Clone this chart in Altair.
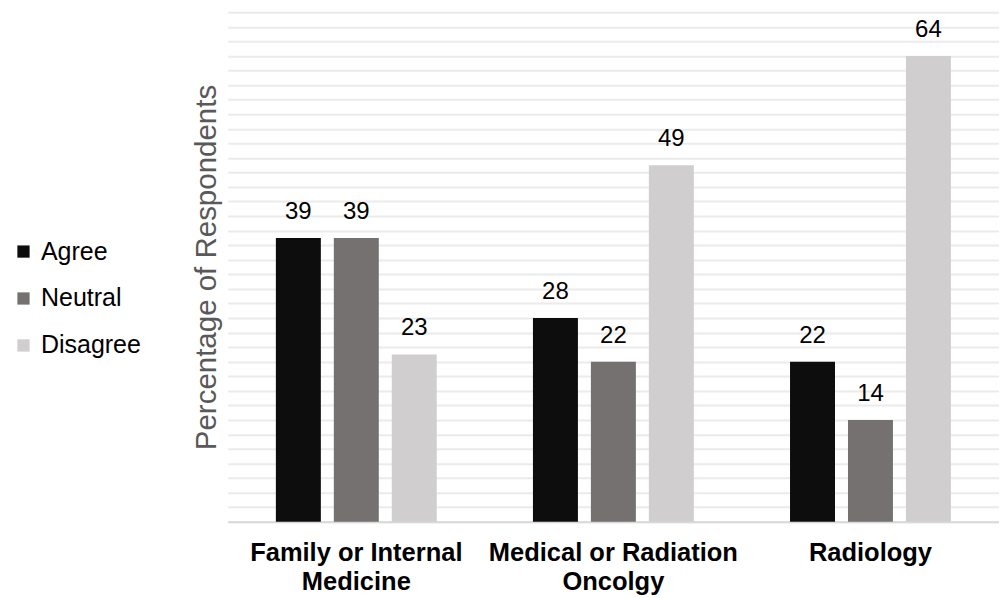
import altair as alt
import pandas as pd

categories = ["Family or Internal Medicine", "Medical or Radiation Oncolgy", "Radiology"]
responses = ["Agree", "Neutral", "Disagree"]
agree = [39, 28, 22]
neutral = [39, 22, 14]
disagree = [23, 49, 64]
colors = ["#0d0d0d", "#767171", "#d0cece"]

rows = []
for i, c in enumerate(categories):
    for r, vals in zip(responses, [agree, neutral, disagree]):
        rows.append({"category": c, "response": r, "value": vals[i]})
df = pd.DataFrame(rows)

FONT = "Liberation Sans"

label_expr = (
    "datum.value == 'Family or Internal Medicine' ? ['Family or Internal', 'Medicine'] : "
    "datum.value == 'Medical or Radiation Oncolgy' ? ['Medical or Radiation', 'Oncolgy'] : datum.value"
)

x = alt.X(
    "category:N",
    sort=categories,
    title=None,
    scale=alt.Scale(paddingInner=0, paddingOuter=0),
    axis=alt.Axis(
        labelExpr=label_expr,
        labelAngle=0,
        labelFont=FONT,
        labelFontSize=25.5,
        labelFontWeight="bold",
        labelColor="#000000",
        labelPadding=19,
        labelLineHeight=29,
        labelLimit=0,
        ticks=False,
        domain=True,
        domainColor="#d9d9d9",
        domainWidth=2,
        grid=False,
    ),
)
xoff = alt.XOffset(
    "response:N",
    sort=responses,
    scale=alt.Scale(paddingInner=0.224, paddingOuter=0.83),
)
y = alt.Y(
    "value:Q",
    scale=alt.Scale(domain=[0, 70], nice=False),
    axis=alt.Axis(
        title="Percentage of Respondents",
        titleFont=FONT,
        titleFontSize=29.5,
        titleFontWeight="normal",
        titleColor="#595959",
        titlePadding=6,
        labels=False,
        ticks=False,
        domain=False,
        grid=True,
        gridColor="#ebebeb",
        gridWidth=2,
        values=list(range(0, 72, 2)),
    ),
)

bars = alt.Chart(df).mark_bar().encode(
    x=x,
    xOffset=xoff,
    y=y,
    color=alt.Color(
        "response:N",
        sort=responses,
        scale=alt.Scale(domain=responses, range=colors),
        legend=alt.Legend(
            title=None,
            orient="none",
            legendX=-217,
            legendY=227,
            symbolType="square",
            symbolSize=150,
            symbolStrokeWidth=0,
            labelFont=FONT,
            labelFontSize=25,
            labelColor="#000000",
            labelOffset=5,
            rowPadding=21,
        ),
    ),
)

labels = alt.Chart(df).mark_text(
    font=FONT, fontSize=24, color="#000000", baseline="alphabetic", dy=-19
).encode(
    x=x,
    xOffset=xoff,
    y=y,
    text="value:Q",
)

chart = (
    alt.layer(bars, labels)
    .properties(
        width=772,
        height=510,
        padding={"left": 3, "top": 4, "right": 0, "bottom": 0},
    )
    .configure(font=FONT)
    .configure_view(strokeWidth=0, stroke="transparent")
)

chart.save("out.html", embed_options={"renderer": "svg", "actions": False})
